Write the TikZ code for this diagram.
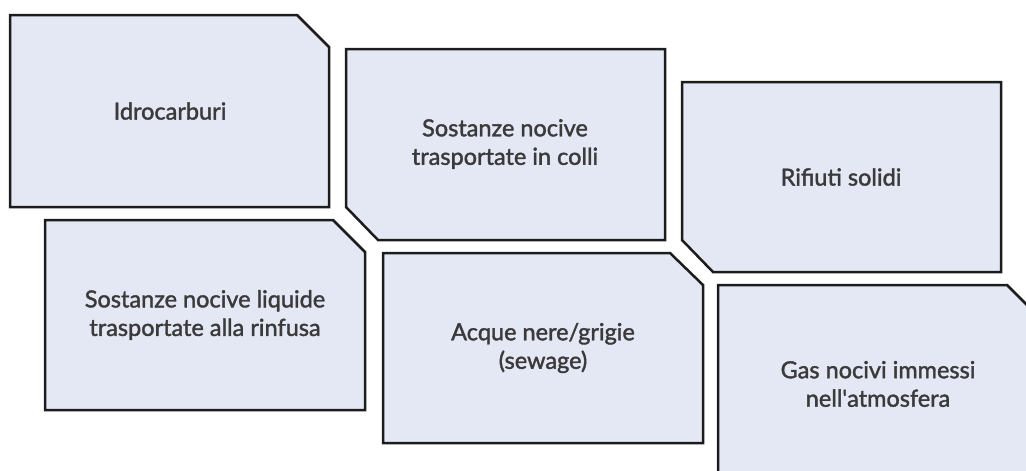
\documentclass[tikz,border=0pt]{standalone}
\usepackage{fontspec}
\newfontfamily\boxfont{Lato}[FakeBold=1.6]
\definecolor{boxfill}{HTML}{E4E8F5}
\definecolor{boxline}{HTML}{1C1C1C}
\definecolor{boxtext}{HTML}{3A3A3A}
\begin{document}
\begin{tikzpicture}
  [x=1pt,y=-1pt,
   panel/.style={draw=boxline,fill=boxfill,line width=2.5pt,line join=miter},
   label/.style={text=boxtext,align=center,font=\boxfont\fontsize{23.5}{28.5}\selectfont}]
  \useasboundingbox (0,0) rectangle (1026,471);
  \clip (0,0) rectangle (1026,471);

  % top row
  \draw [panel] (10,15) -- (297,15) -- (329,47) -- (329,207) -- (10,207) -- cycle;
  \node (idro) at (170,111) [label] {Idrocarburi};

  \draw [panel] (346,49) -- (665,49) -- (665,240) -- (378,240) -- (346,207) -- cycle;
  \node (colli) at (505,144) [label] {Sostanze nocive\\trasportate in colli};

  \draw [panel] (682,82) -- (1001,82) -- (1001,272) -- (713,272) -- (682,240) -- cycle;
  \node (rifiuti) at (841,177) [label] {Rifiuti solidi};

  % bottom row
  \draw [panel] (45,220) -- (333,220) -- (365,252) -- (365,410) -- (45,410) -- cycle;
  \node (rinfusa) at (205,315) [label] {Sostanze nocive liquide\\trasportate alla rinfusa};

  \draw [panel] (383,253) -- (670,253) -- (703,285) -- (703,443) -- (383,443) -- cycle;
  \node (sewage) at (543,348) [label] {Acque nere/grigie\\(sewage)};

  \draw [panel] (718,285) -- (1007,285) -- (1039,317) -- (1039,476) -- (718,476) -- cycle;
  \node (gas) at (878,384) [label] {Gas nocivi immessi\\nell\textquotesingle atmosfera};
\end{tikzpicture}
\end{document}
